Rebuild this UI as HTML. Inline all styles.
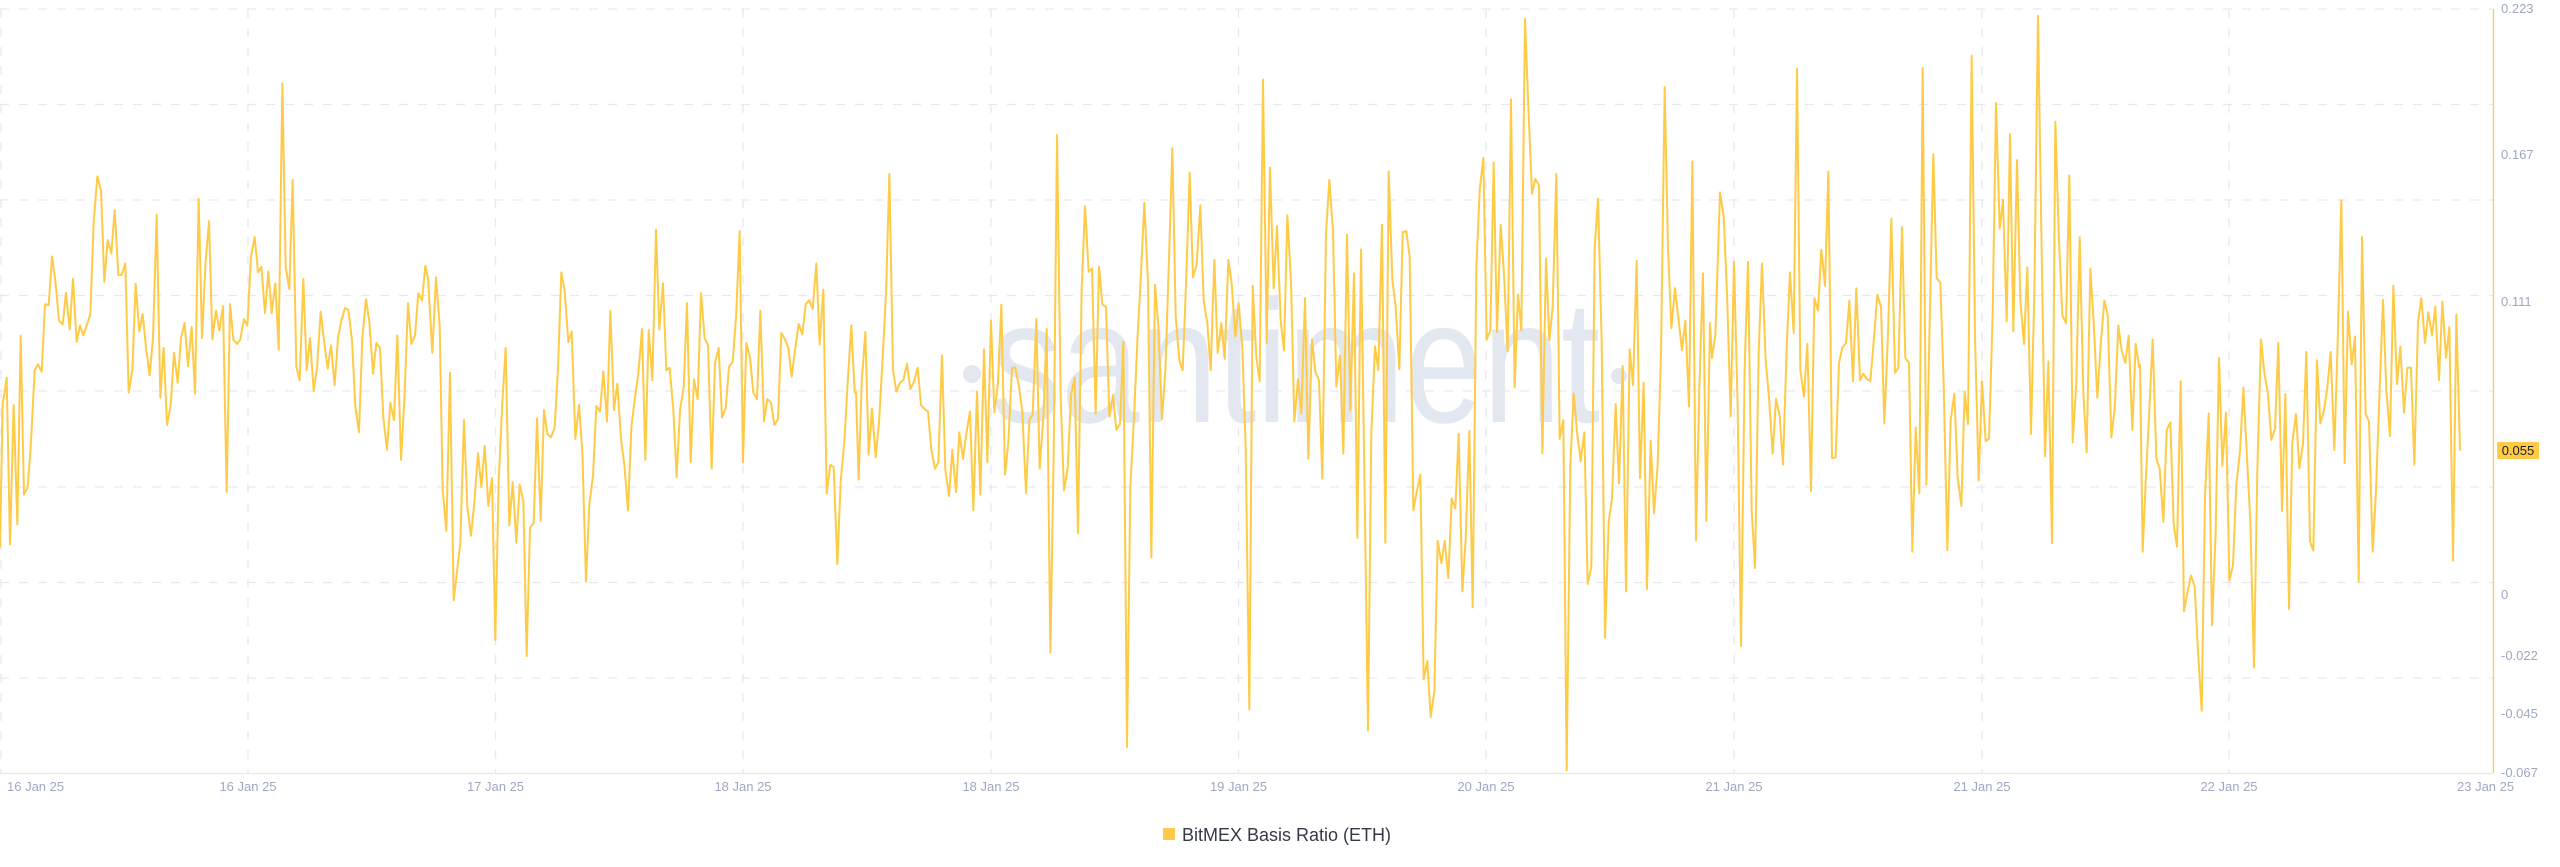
<!DOCTYPE html>
<html>
<head>
<meta charset="utf-8">
<style>
  html, body { margin:0; padding:0; background:#ffffff; }
  body { width:2560px; height:867px; overflow:hidden; }
  svg { display:block; }
  .lbl { font-family:"Liberation Sans", sans-serif; font-size:13px; fill:#9fa8c2; }
</style>
</head>
<body>
<svg width="2560" height="867" viewBox="0 0 2560 867" xmlns="http://www.w3.org/2000/svg">
  <rect x="0" y="0" width="2560" height="867" fill="#ffffff"/>

  <!-- watermark -->
  <g fill="#e3e7f0">
    <circle cx="972" cy="374" r="9"/>
    <circle cx="1619" cy="376" r="8"/>
    <text x="991" y="422" font-family="Liberation Sans, sans-serif" font-size="175" textLength="609" lengthAdjust="spacingAndGlyphs">santiment</text>
  </g>

  <!-- horizontal grid -->
  <g stroke="#e6e9f2" stroke-width="1.3" stroke-dasharray="9 10" fill="none">
    <line x1="0" y1="9" x2="2493" y2="9"/>
    <line x1="0" y1="104.5" x2="2493" y2="104.5"/>
    <line x1="0" y1="200" x2="2493" y2="200"/>
    <line x1="0" y1="295.5" x2="2493" y2="295.5"/>
    <line x1="0" y1="391" x2="2493" y2="391"/>
    <line x1="0" y1="487" x2="2493" y2="487"/>
    <line x1="0" y1="582.5" x2="2493" y2="582.5"/>
    <line x1="0" y1="678" x2="2493" y2="678"/>
  </g>
  <!-- vertical grid -->
  <g stroke="#e6e9f2" stroke-width="1.3" stroke-dasharray="9 10" fill="none">
    <line x1="1" y1="9" x2="1" y2="773"/>
    <line x1="248" y1="9" x2="248" y2="773"/>
    <line x1="495.5" y1="9" x2="495.5" y2="773"/>
    <line x1="743" y1="9" x2="743" y2="773"/>
    <line x1="991" y1="9" x2="991" y2="773"/>
    <line x1="1238.5" y1="9" x2="1238.5" y2="773"/>
    <line x1="1486" y1="9" x2="1486" y2="773"/>
    <line x1="1734" y1="9" x2="1734" y2="773"/>
    <line x1="1982" y1="9" x2="1982" y2="773"/>
    <line x1="2229" y1="9" x2="2229" y2="773"/>
  </g>

  <!-- bottom axis -->
  <line x1="0" y1="773.5" x2="2493" y2="773.5" stroke="#e3e7f0" stroke-width="1.3"/>
  <!-- right axis -->
  <line x1="2493.5" y1="9" x2="2493.5" y2="773" stroke="#ffcb47" stroke-width="1.3"/>

  <!-- series -->
  <g fill="none" stroke="#ffcb47" stroke-width="2" stroke-linejoin="round" stroke-linecap="round">
    <polyline vector-effect="non-scaling-stroke" transform="translate(0,0) scale(0.333333,0.497)" points="0,1100 8,810 14,790 20,760 30,1095 41,815 52,1055 62,675 72,995 83,980 93,890 104,745 114,733 125,748 135,612 146,614 156,516 166,565 177,645 188,653 198,589 209,663 219,561 230,688 240,655 250,675 260,655 271,632 281,447 292,355 303,383 313,567 323,483 334,510 344,423 355,553 365,553 376,530 386,790 397,745 407,571 418,667 428,632 438,700 449,755 459,680 470,432 481,800 491,700 501,855 512,815 522,710 533,770 543,680 554,650 564,737 575,658 585,792 596,400 606,680 617,525 627,445 637,683 648,625 658,665 669,616 680,990 690,612 700,683 711,692 721,683 732,642 742,655 753,516 764,477 774,548 784,537 795,630 805,546 815,630 826,570 836,703 847,168 857,537 868,582 878,362 889,738 899,765 910,561 920,745 930,680 941,787 951,740 962,627 972,685 983,742 993,695 1004,775 1014,680 1024,645 1035,620 1045,623 1056,685 1066,818 1077,870 1087,680 1098,602 1108,647 1119,752 1129,690 1140,700 1150,840 1161,905 1171,810 1182,845 1192,675 1203,925 1213,805 1224,610 1234,692 1245,675 1255,590 1266,605 1276,535 1284,560"/>
    <polyline vector-effect="non-scaling-stroke" transform="translate(428,0) scale(0.333333,0.497)" points="0,560 13,710 24,558 35,655 44,985 55,1068 66,750 77,1208 87,1150 97,1092 108,845 118,1020 129,1078 139,1010 150,912 160,980 170,897 181,1018 192,962 202,1288 212,968 223,810 233,700 244,1057 254,970 265,1092 275,975 286,1008 296,1320 306,1062 317,1052 327,842 338,1048 348,825 358,873 369,880 380,860 390,740 400,548 410,585 421,688 431,667 442,883 453,815 463,910 474,1170 484,1015 495,957 505,817 516,828 526,747 537,848 547,625 558,825 568,772 579,883 589,935 600,1027 610,860 621,800 631,752 642,662 652,925 662,664 673,765 684,462 694,663 705,570 715,745 725,740 736,825 746,960 756,825 767,780 777,610 788,930 798,763 809,803 819,590 830,680 840,695 851,943 861,730 872,700 882,840 893,822 903,738 914,728 924,640 935,465 945,930 955,690 966,720 976,790 987,803 997,625 1008,848 1018,803 1029,810 1039,855 1050,843 1060,670 1071,683 1081,700 1091,758 1102,700 1112,652 1123,673 1133,612 1144,604 1154,622 1165,530 1175,693 1186,583 1196,993 1207,935 1217,940 1228,1135 1238,970 1249,888 1259,770 1270,655 1280,790 1284,790"/>
    <polyline vector-effect="non-scaling-stroke" transform="translate(856,0) scale(0.333333,0.497)" points="0,790 8,965 17,770 28,668 38,915 48,822 59,920 69,850 80,720 90,590 100,350 111,745 121,788 132,770 142,765 153,732 163,783 174,768 185,740 195,815 206,823 216,828 226,905 237,943 247,930 258,715 268,945 279,998 289,905 300,990 310,870 321,923 331,872 342,828 352,1027 363,788 373,995 384,703 394,930 405,645 415,830 426,770 436,613 447,955 457,890 468,740 478,740 489,778 499,830 510,992 520,845 530,835 541,642 551,943 562,840 572,662 583,1313 593,915 603,272 614,800 624,987 635,942 645,795 656,760 666,1073 677,580 687,415 698,547 708,540 719,832 729,537 739,612 750,618 760,838 771,795 781,865 792,853 802,688 813,1503 823,980 834,840 844,688 855,550 865,408 876,570 886,1122 897,573 907,655 918,843 928,747 939,520 949,298 959,635 970,725 980,745 991,555 1001,347 1011,558 1022,532 1033,413 1043,605 1054,650 1064,745 1075,523 1085,710 1096,650 1106,722 1117,523 1127,570 1138,677 1148,610 1159,700 1169,900 1180,1427 1190,575 1201,718 1211,767 1221,160 1232,690 1242,337 1253,580 1263,455 1274,645 1284,705"/>
    <polyline vector-effect="non-scaling-stroke" transform="translate(1284,0) scale(0.333333,0.497)" points="0,705 10,433 21,565 31,848 42,763 52,832 63,600 73,923 84,683 94,748 105,765 115,963 126,470 136,362 147,465 157,778 168,715 178,913 189,472 199,825 210,550 220,1082 231,502 241,950 252,1470 262,870 273,697 283,745 294,452 304,1092 314,345 325,563 335,617 346,743 356,467 367,465 377,517 388,1027 398,990 409,955 419,1367 430,1330 440,1443 451,1392 461,1088 472,1133 482,1088 493,1163 503,1003 514,1023 524,873 535,1190 545,1085 556,867 566,1222 577,540 587,383 598,318 608,683 619,665 629,327 639,668 650,452 660,552 671,707 681,200 692,780 702,593 712,665 723,38 733,215 744,390 754,360 765,373 775,912 786,520 796,685 806,617 817,350 827,883 838,845 848,1550 859,935 869,792 880,875 890,928 901,870 911,1175 922,1140 932,497 942,400 953,687 963,1283 974,1050 984,1003 995,813 1005,973 1016,737 1026,1190 1037,703 1047,775 1058,525 1068,962 1079,770 1089,1185 1100,887 1110,1033 1121,935 1131,710 1142,175 1152,500 1162,660 1173,580 1183,640 1194,705 1204,645 1215,818 1225,325 1236,1087 1246,780 1257,550 1267,1048 1278,650 1284,720"/>
    <polyline vector-effect="non-scaling-stroke" transform="translate(1712,0) scale(0.333333,0.497)" points="0,720 10,675 24,387 35,435 45,590 56,838 66,527 77,820 87,1300 98,740 108,527 119,1025 129,1143 140,710 150,530 161,725 171,800 182,913 192,802 203,837 213,935 224,700 234,548 245,670 255,138 265,745 276,798 286,692 297,988 307,600 318,625 328,502 339,575 349,345 360,922 371,920 381,730 391,700 402,690 412,605 423,767 433,580 444,765 454,752 465,763 475,767 486,680 496,593 507,617 517,852 528,672 538,440 549,750 559,740 570,457 580,720 591,730 601,1110 611,860 622,993 632,137 643,975 653,650 664,310 674,560 685,568 695,775 706,1107 716,845 727,792 737,960 748,1018 758,788 768,853 779,112 789,675 800,967 810,767 821,887 831,883 842,630 852,207 863,460 873,402 884,647 894,270 904,667 915,322 925,605 936,692 946,538 957,873 967,587 978,32 988,465 999,918 1009,727 1020,1093 1030,245 1041,485 1051,635 1062,650 1072,353 1082,890 1093,768 1103,477 1114,790 1124,910 1135,540 1145,650 1156,800 1166,693 1177,605 1187,633 1198,880 1208,823 1219,655 1229,705 1240,730 1250,675 1261,865 1271,692 1282,740 1284,735"/>
    <polyline vector-effect="non-scaling-stroke" transform="translate(2140,0) scale(0.333333,0.497)" points="0,735 8,1110 17,970 27,840 38,683 49,922 59,943 70,1050 80,865 91,850 101,1055 111,1100 122,767 132,1230 143,1190 153,1158 164,1180 174,1310 185,1430 195,1000 206,832 216,1258 227,1070 237,720 247,937 258,830 268,1168 279,1137 289,975 300,908 310,780 321,920 331,1050 342,1343 352,945 363,683 373,750 384,793 394,885 405,863 415,690 426,1028 436,793 447,1225 457,890 468,833 478,942 489,893 499,708 510,1090 520,1108 531,725 541,852 552,825 562,780 572,708 583,905 593,690 604,403 614,932 624,627 635,733 645,677 656,1170 666,477 677,833 687,848 698,1110 708,987 718,800 729,603 739,785 750,877 760,575 771,773 781,698 792,830 802,740 813,740 823,935 834,648 844,600 855,690 865,628 876,675 886,617 897,765 907,607 918,720 928,658 939,1128 949,633 960,905"/>
  </g>

  <!-- y-axis labels -->
  <g class="lbl">
    <text x="2501" y="13">0.223</text>
    <text x="2501" y="159">0.167</text>
    <text x="2501" y="306">0.111</text>
    <text x="2501" y="599">0</text>
    <text x="2501" y="660">-0.022</text>
    <text x="2501" y="718">-0.045</text>
    <text x="2501" y="777">-0.067</text>
  </g>
  <!-- current value badge -->
  <rect x="2497" y="442" width="42" height="17" fill="#ffcb47" rx="1"/>
  <text x="2518" y="455" text-anchor="middle" font-family="Liberation Sans, sans-serif" font-size="13" fill="#1e1f26">0.055</text>

  <!-- x-axis labels -->
  <g class="lbl">
    <text x="7" y="791">16 Jan 25</text>
    <text x="248" y="791" text-anchor="middle">16 Jan 25</text>
    <text x="495.5" y="791" text-anchor="middle">17 Jan 25</text>
    <text x="743" y="791" text-anchor="middle">18 Jan 25</text>
    <text x="991" y="791" text-anchor="middle">18 Jan 25</text>
    <text x="1238.5" y="791" text-anchor="middle">19 Jan 25</text>
    <text x="1486" y="791" text-anchor="middle">20 Jan 25</text>
    <text x="1734" y="791" text-anchor="middle">21 Jan 25</text>
    <text x="1982" y="791" text-anchor="middle">21 Jan 25</text>
    <text x="2229" y="791" text-anchor="middle">22 Jan 25</text>
    <text x="2457" y="791">23 Jan 25</text>
  </g>

  <!-- legend -->
  <rect x="1163" y="828" width="12" height="12" fill="#ffcb47" rx="1"/>
  <text x="1182" y="841" font-family="Liberation Sans, sans-serif" font-size="18" fill="#363a46">BitMEX Basis Ratio (ETH)</text>
</svg>
</body>
</html>
